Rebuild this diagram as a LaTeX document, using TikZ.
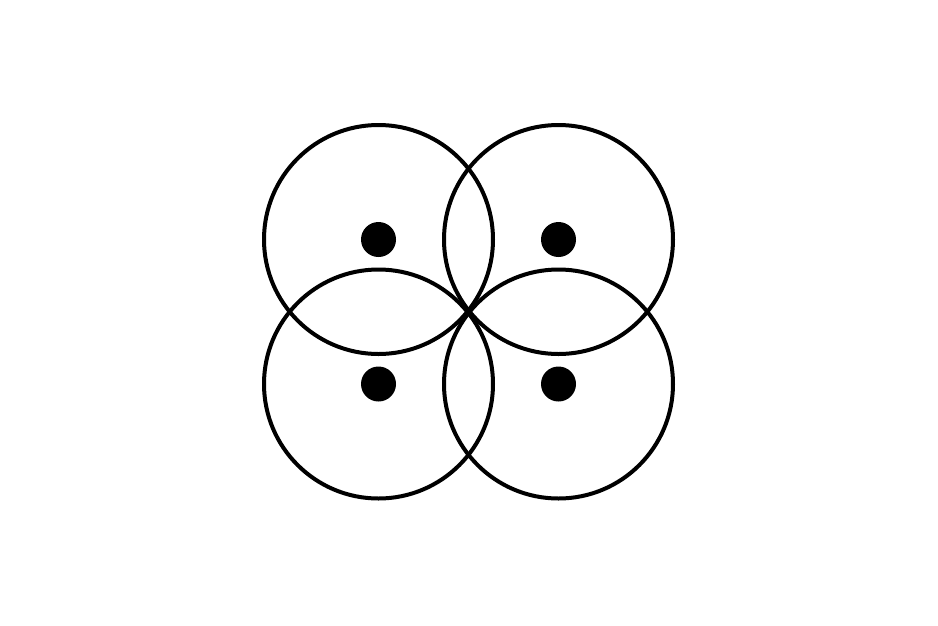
\documentclass[tikz,border=0pt]{standalone}
\begin{document}
\begin{tikzpicture}[x=1pt,y=-1pt,
  ring/.style={draw=black,line width=4pt},
  dot/.style={circle,fill=black,inner sep=0pt,minimum size=35pt}]
\useasboundingbox (0,0) rectangle (938,625);
\fill[white] (0,0) rectangle (938,625);
\coordinate (c1) at (378.5,239.5);
\coordinate (c2) at (558.5,239.5);
\coordinate (c3) at (378.5,384);
\coordinate (c4) at (558.5,384);
\foreach \c in {c1,c2,c3,c4} {\draw[ring] (\c) circle[radius=114.5];}
\node[dot] (d1) at (c1) {};
\node[dot] (d2) at (c2) {};
\node[dot] (d3) at (c3) {};
\node[dot] (d4) at (c4) {};
\end{tikzpicture}
\end{document}
